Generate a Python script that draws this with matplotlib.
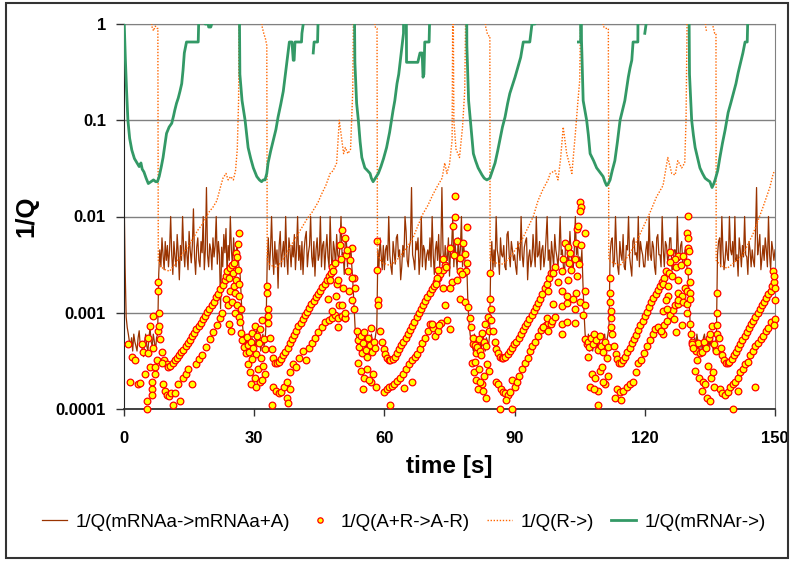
import numpy as np
import matplotlib
matplotlib.use('Agg')
import matplotlib.pyplot as plt
from matplotlib.patches import Rectangle

plt.rcParams['font.family'] = ['Liberation Sans', 'DejaVu Sans']

OFF = 5.0  # value above the axis top (1/Q > 1), gets clipped like in the original

labels = ['1/Q(mRNAa->mRNAa+A)', '1/Q(A+R->A-R)', '1/Q(R->)', '1/Q(mRNAr->)']

# 1/Q(mRNAa->mRNAa+A), sampled every 0.25 s (one row = 10 s), in units of 1e-4
brown_dt = 0.25
brown = [
    200, 30, 9, 7, 6, 5, 4.5, 5.5, 4, 6, 5, 4.5, 4, 5.5, 6.5, 4.5, 5, 4, 3.5, 5,
    6, 4.5, 4, 5.5, 7, 5, 4.5, 6, 5, 4, 5.5, 6, 25, 45, 30, 60, 40, 28, 55, 35,
    50, 30, 45, 100, 40, 25, 55, 38, 30, 65, 42, 22, 50, 35, 100, 45, 30, 55, 40, 28,
    70, 45, 33, 50, 120, 38, 25, 48, 60, 35, 30, 55, 42, 100, 28, 45, 200, 40, 30, 52,
    45, 28, 60, 38, 50, 100, 32, 55, 40, 11, 48, 30, 65, 42, 75, 25, 50, 35, 100, 45,
    30, 60, 38, 28, 55, 40, 30, 25, 15, 8, 6, 5, 4.5, 5.5, 4, 6, 5, 4.5, 5.5, 4,
    5, 4, 6.5, 4.5, 5, 5.5, 4, 5, 6, 4.5, 5, 8, 35, 60, 28, 45, 100, 40, 25, 55,
    32, 45, 18, 50, 70, 30, 42, 55, 30, 100, 38, 25, 60, 45, 30, 50, 38, 65, 28, 45,
    100, 35, 50, 28, 55, 25, 45, 60, 70, 30, 42, 50, 100, 38, 30, 55, 24, 45, 60, 35,
    40, 100, 30, 50, 55, 28, 45, 65, 38, 30, 100, 42, 25, 55, 45, 30, 65, 40, 35, 50,
    100, 40, 42, 25, 60, 55, 30, 45, 38, 50, 30, 20, 12, 7, 6, 5, 4.5, 4, 5.5, 4,
    5, 4.5, 6, 4, 5, 5.5, 4.5, 4, 6, 5, 4.5, 5, 6, 7, 45, 30, 60, 40, 28, 50,
    28, 45, 50, 35, 100, 40, 30, 25, 55, 42, 32, 60, 65, 38, 45, 22, 30, 50, 38, 100,
    70, 35, 30, 48, 55, 200, 40, 35, 28, 55, 45, 60, 25, 38, 100, 30, 50, 45, 28, 40,
    45, 35, 60, 30, 100, 40, 25, 45, 55, 35, 65, 30, 42, 200, 45, 28, 50, 38, 35, 60,
    24, 45, 50, 100, 30, 55, 40, 28, 60, 35, 45, 100, 30, 50, 40, 24, 30, 12, 8, 6,
    5, 4.5, 4, 6, 5, 4.5, 3.5, 5, 5.5, 4, 5, 6, 4.5, 4, 5.5, 5, 4.5, 6, 35, 55,
    28, 45, 30, 100, 45, 38, 25, 60, 40, 38, 50, 30, 28, 65, 70, 40, 30, 55, 45, 35,
    40, 30, 25, 55, 45, 35, 100, 40, 30, 48, 55, 60, 22, 38, 45, 30, 35, 65, 42, 30,
    100, 38, 40, 55, 28, 45, 50, 30, 38, 60, 100, 35, 45, 25, 55, 40, 30, 65, 45, 38,
    30, 45, 100, 40, 45, 30, 25, 55, 55, 35, 35, 70, 42, 30, 28, 45, 100, 40, 50, 30,
    38, 30, 45, 20, 10, 6, 5, 4.5, 6, 4, 5, 5.5, 4, 5, 4.5, 5.5, 4, 6, 5, 4.5,
    4, 5, 5.5, 6, 4.5, 5, 6, 7, 40, 55, 60, 30, 35, 100, 45, 30, 25, 55, 40, 35,
    65, 30, 28, 50, 45, 100, 38, 30, 24, 55, 60, 40, 42, 35, 100, 30, 55, 45, 40, 30,
    30, 45, 55, 35, 100, 40, 35, 55, 48, 30, 25, 60, 65, 40, 40, 30, 100, 45, 30, 55,
    50, 35, 38, 60, 60, 28, 28, 45, 45, 35, 100, 40, 35, 50, 55, 30, 30, 45, 45, 28,
    25, 12, 7, 5, 4, 4.5, 5.5, 4.5, 6, 5, 3.5, 4.5, 5, 4, 5.5, 6, 4.5, 5, 4, 5.5,
    4.5, 5, 6, 4, 5, 4.5, 6, 40, 55, 60, 30, 100, 45, 28, 35, 55, 40, 35, 100, 45,
    40, 55, 30, 100, 35, 40, 24, 60, 45, 30, 50, 38, 100, 40, 38, 25, 55, 45, 30, 45,
    35, 30, 65, 200, 40, 50, 65, 28, 38, 50, 35, 60, 45, 30, 100, 40, 28, 55, 45, 35,
    45,
]

# 1/Q(A+R->A-R) scatter, per cycle, values in units of 1e-4
ar_t1 = [0.9, 1.4, 1.8, 2.5, 3.2, 3.7, 4.1, 4.4, 4.8, 5.3, 5.3, 5.6, 5.6, 6.0, 6.0, 6.4, 6.4, 6.4, 6.7, 6.7, 7.1, 7.1, 7.5, 7.9,
         7.9, 7.9, 8.0, 8.0,
         8.3, 8.8, 9.3, 9.8, 10.2, 10.7, 11.2, 11.7, 12.2, 12.7, 13.2, 13.7, 14.2, 14.7, 15.2, 15.7, 16.2, 16.7, 17.2, 17.7,
         18.2, 18.7, 19.2, 19.7, 20.2, 20.7, 21.2, 21.7, 22.2, 22.7, 23.2,
         8.8, 9.0, 9.4, 9.8, 10.3, 10.8, 11.3, 11.7, 12.5, 12.9, 13.6, 14.2, 14.8, 15.6, 16.5, 17.3, 18.0, 19.0, 19.8, 20.6,
         21.4, 22.1, 22.6,
         23.4, 23.8, 24.1, 24.4, 24.8, 25.1, 25.4, 25.7, 26.0, 26.3, 26.6, 23.6, 24.0, 24.5, 24.9, 25.3, 25.6, 25.9, 26.2, 26.5,
         24.2, 24.7, 25.5, 26.1, 26.4, 26.8, 27.0, 27.3, 27.6, 28.0, 26.6, 26.9]
ar_v1 = [4.7, 1.9, 3.5, 3.2, 1.8, 1.85, 4.7, 3.9, 2.3, 1.2, 1.0, 5.5, 3.8, 7.2, 2.7, 1.9, 1.6, 1.4, 9.3, 4.3, 2.3, 2.7, 3.2, 6.4,
         21, 17, 10, 7.2,
         5.3, 3.9, 3.2, 2.9, 2.7, 2.8, 3.0, 3.2, 3.4, 3.6, 3.9, 4.1, 4.5, 4.8, 5.2, 5.7, 6.1, 6.7, 7.3, 7.9,
         8.6, 9.3, 10.2, 11, 12, 13, 14.5, 15.8, 17.5, 19.5, 22,
         3.0, 1.8, 1.55, 1.4, 1.35, 1.45, 1.1, 1.45, 1.8, 1.2, 2.1, 2.3, 2.6, 1.8, 2.9, 3.3, 3.6, 4.4, 5.3, 6.3,
         7.4, 8.8, 10,
         24, 27, 23, 29, 31, 26, 33, 42, 38, 52, 67, 14, 12, 17, 13, 19, 16, 22, 28, 20,
         7.7, 6.4, 10, 12, 9, 8, 6.2, 5.2, 4.4, 3.8, 15, 11]

ar_t2 = [28.3, 28.6, 28.9, 29.2, 29.5, 29.8, 30.1, 30.4, 30.7, 31.0, 31.3, 31.6, 31.9, 32.2, 32.5, 28.5, 29.0, 29.6, 30.2, 30.8,
         31.4, 32.0, 32.6, 29.3, 30.5, 31.7,
         33.0, 33.0, 33.1, 33.1, 33.2,
         33.6, 34.0, 34.4, 34.8, 35.2, 35.7, 36.2, 36.7, 37.2, 37.7, 38.2, 38.7, 39.2, 39.7, 40.2, 40.7, 41.2, 41.7, 42.2, 42.7,
         43.2, 43.7, 44.2, 44.7, 45.2, 45.7, 46.2, 46.7, 47.2, 47.7,
         34.4, 35.0, 35.6, 36.2, 36.8, 37.6, 38.3, 38.9, 39.6, 40.4, 41.2, 42.0, 42.6, 43.4, 44.0, 44.8, 45.6, 46.4, 47.2, 47.9,
         48.6, 49.3, 50.2, 50.9, 34.1, 37.6, 37.9, 38.2,
         47.0, 47.5, 47.9, 48.2, 48.6, 49.0, 49.3, 49.8, 50.2, 50.5, 50.9, 51.2, 51.6, 52.0, 52.5, 52.9, 53.2, 48.0, 48.8, 49.5,
         50.2, 51.0, 51.8, 52.5, 53.0, 49.3, 50.9, 52.5, 51.4, 50.0]
ar_v2 = [5.6, 4.6, 3.9, 5.0, 6.2, 4.3, 7.2, 3.7, 5.8, 4.9, 6.8, 3.4, 8.5, 5.3, 4.2, 2.9, 2.4, 3.3, 2.1, 2.6,
         1.9, 2.8, 2.3, 1.8, 1.7, 2.0,
         19, 16, 11, 9.3, 7.9,
         5.5, 4.2, 3.4, 3.0, 3.0, 3.1, 3.3, 3.6, 3.9, 4.3, 4.8, 5.3, 5.9, 6.5, 7.2, 7.9, 8.6, 9.4, 10.3, 11.2,
         12.2, 13.2, 14.5, 15.8, 17, 18.5, 20, 22, 24, 26,
         1.7, 1.55, 1.45, 1.5, 1.7, 1.9, 2.4, 2.9, 2.7, 3.4, 4.0, 3.2, 4.3, 4.9, 5.5, 6.3, 7.1, 8.0, 8.5, 8.9,
         9.5, 8.9, 9.3, 8.9, 1.1, 1.3, 1.15, 1.6,
         14, 22, 30, 27, 33, 20, 22, 50, 72, 18, 60, 40, 27, 35, 47, 23, 18, 10.4, 15, 12,
         12, 8.9, 17, 13.5, 11, 7.1, 10, 23, 45, 36]

ar_t3 = [53.6, 53.9, 54.2, 54.5, 54.8, 55.1, 55.4, 55.7, 56.0, 56.3, 56.6, 56.9, 57.2, 57.5, 57.8, 54.0, 54.6, 55.3, 56.1, 56.8,
         57.4, 58.0, 55.0, 56.5,
         58.4, 58.4, 58.5, 58.5,
         59.0, 59.4, 59.8, 60.2, 60.6, 61.0, 61.4, 61.9, 62.4, 62.9, 63.4, 63.9, 64.4, 64.9, 65.4, 65.9, 66.4, 66.9, 67.4, 67.9,
         68.4, 68.9, 69.4, 69.9, 70.4, 70.9, 71.4, 71.9, 72.4, 72.9, 73.4, 73.9,
         60.0, 60.5, 61.1, 61.7, 62.3, 62.9, 63.5, 64.3, 65.0, 65.7, 66.4, 67.0, 67.5, 68.1, 68.7, 69.3, 70.0, 70.5, 71.1, 71.7,
         72.3, 61.3, 66.4, 64.6,
         76.3, 76.3, 79.0, 75.8, 76.7, 78.1, 75.1, 76.0, 77.4, 78.5, 73.5, 72.3, 74.2, 77.4, 78.8, 72.1, 75.6, 77.8, 73.5, 75.1,
         76.8, 71.8, 71.0, 73.0, 74.5, 75.1, 72.5, 77.4, 78.5, 79.3, 79.7, 80.0, 80.4, 80.2, 79.0, 74.0]
ar_v3 = [6.5, 5.2, 4.4, 5.8, 3.8, 4.9, 6.3, 4.1, 3.5, 5.5, 4.6, 7.0, 3.9, 5.0, 4.3, 3.0, 2.5, 2.1, 2.6, 1.9,
         2.3, 1.7, 1.6, 2.0,
         55, 28, 13.5, 12,
         6.5, 5, 4.2, 3.7, 3.4, 3.2, 3.2, 3.3, 3.5, 3.8, 4.2, 4.6, 5.0, 5.5, 6.0, 6.6, 7.3, 8.1, 9, 10,
         11, 12, 13.2, 14.5, 16, 17.5, 19, 21, 23, 25, 28, 31,
         1.5, 1.6, 1.7, 1.75, 1.8, 1.95, 2.1, 2.3, 2.6, 2.9, 3.2, 3.5, 3.7, 4.2, 4.8, 5.5, 6.5, 7.6, 7.0, 5.8,
         6.4, 1.1, 1.9, 1.65,
         165, 98, 77, 80, 56, 53, 47, 40, 37, 41, 36, 28, 30, 27, 27, 23, 21, 25, 18, 18,
         22, 20, 7.6, 7.9, 8.5, 6.8, 7.5, 14, 13, 11.5, 8.9, 7.1, 4.7, 3.0, 33, 12]

ar_t4 = [80.5, 80.8, 81.1, 81.4, 81.7, 82.0, 82.3, 82.6, 82.9, 83.2, 83.5, 83.8, 84.1, 80.6, 81.2, 81.8, 82.4, 83.0, 83.6, 84.2,
         81.5, 82.7, 83.3, 80.9, 82.0,
         84.4, 84.4, 84.5, 84.5,
         85.0, 85.4, 85.8, 86.2, 86.6, 87.0, 87.4, 87.9, 88.4, 88.9, 89.4, 89.9, 90.4, 90.9, 91.4, 91.9, 92.4, 92.9, 93.4, 93.9,
         94.4, 94.9, 95.4, 95.9, 96.4, 96.9, 97.4, 97.9, 98.4,
         85.8, 86.2, 86.8, 87.3, 87.9, 88.5, 89.0, 89.5, 90.0, 90.5, 91.1, 91.7, 92.4, 93.0, 93.5, 94.1, 94.7, 95.3, 96.0, 96.6,
         97.2, 97.8, 98.5, 86.6, 89.5, 88.0,
         105.0, 105.2, 105.0, 104.3, 104.6, 106.2, 101.6, 102.2, 104.1, 105.3, 102.8, 101.2, 102.5, 103.9, 99.3, 100.9, 103.0,
         104.8, 98.8, 100.0, 102.2, 104.4, 97.7, 100.9, 102.0, 104.1, 106.2, 103.5, 105.0, 98.9, 101.0, 102.0, 103.9, 106.2,
         97.5, 98.6, 99.2, 101.0, 102.0, 104.0, 105.8, 96.5, 97.8, 101.0, 106.2, 106.6]
ar_v4 = [5.5, 4.6, 3.8, 4.4, 5.3, 4.0, 3.6, 6.2, 5.0, 7.7, 4.5, 9, 6.5, 2.4, 2.0, 2.6, 1.8, 2.2, 2.9, 2.5,
         1.6, 1.55, 1.3, 3.1, 1.9,
         26, 14, 11, 8.5,
         6.5, 5, 4.2, 3.8, 3.5, 3.4, 3.4, 3.5, 3.7, 4.0, 4.3, 4.7, 5.0, 5.5, 6.0, 6.6, 7.2, 7.9, 8.7, 9.5,
         10.5, 11.5, 12.7, 14, 15.5, 18, 20, 23, 26,
         1.9, 1.8, 1.6, 1.5, 1.45, 1.4, 1.5, 2.0, 1.7, 1.9, 2.2, 2.6, 3.0, 3.4, 4.0, 4.5, 5.0, 5.8, 6.6, 7.1,
         7.5, 7.8, 7.7, 1.0, 1.0, 1.25,
         140, 125, 115, 75, 80, 68, 53, 48, 53, 50, 42, 36, 33, 36, 30, 27, 28,
         32, 26, 21, 22, 24, 17, 17, 15, 16, 17, 14, 13, 12.3, 11.8, 12.5, 11, 12,
         8.9, 8.3, 9, 7.7, 8, 7.9, 9.4, 7.1, 6.5, 6.0, 5.3, 4.7]

ar_t5 = [106.8, 107.2, 107.6, 108.0, 108.4, 108.8, 109.2, 109.6, 110.0, 110.4, 110.8, 111.2, 111.6, 107.4, 107.9, 108.6,
         109.2, 109.7, 110.2, 110.9, 111.5, 108.3, 109.2, 110.4, 107.0,
         112.0, 112.0, 112.0, 112.1, 112.1, 112.1,
         112.5, 112.9, 113.3, 113.7, 114.1, 114.5, 115.0, 115.5, 116.0, 116.5, 117.0, 117.5, 118.0, 118.5, 119.0, 119.5,
         120.0, 120.5, 121.0, 121.5, 122.0, 122.5, 123.0, 123.5, 124.0, 124.5,
         113.6, 114.3, 115.0, 115.8, 116.6, 117.3, 117.9, 118.5, 119.2, 119.9, 120.6, 121.2, 121.8, 122.4, 123.0, 123.7,
         124.4, 125.0, 125.7, 126.4, 127.0, 127.6, 113.2, 114.5,
         130.0, 129.7, 129.9, 130.0, 130.2, 125.8, 127.6, 128.8, 127.0, 125.8, 127.2, 129.7, 124.9, 125.6, 128.4, 130.0,
         126.2, 124.2, 125.3, 127.6, 129.2, 130.4, 127.6, 128.5, 129.7, 130.3, 127.6, 128.8, 129.7, 130.4, 125.3, 124.9,
         124.2, 125.2, 126.7, 128.5, 127.2, 129.7, 124.2, 123.8]
ar_v5 = [5.0, 4.4, 5.5, 4.7, 6.0, 5.2, 4.1, 5.8, 4.5, 3.9, 5.0, 3.4, 4.4, 1.7, 2.3, 2.1,
         1.55, 2.5, 2.7, 1.8, 2.2, 1.6, 1.1, 1.9, 3.5,
         23, 16, 13, 10.5, 8.9, 7.1,
         6, 4.5, 3.7, 3.3, 3.0, 3.0, 3.2, 3.5, 3.9, 4.3, 4.8, 5.3, 5.9, 6.6, 7.4, 8.3,
         9.3, 10.3, 11.5, 12.8, 14.2, 15.7, 17.3, 19, 21, 23,
         1.6, 1.5, 1.55, 1.7, 1.8, 1.9, 2.4, 3.0, 3.2, 3.8, 4.5, 5.2, 6.0, 6.8, 7.1, 6.5,
         7.5, 8.3, 9.5, 10.8, 12, 12.3, 1.3, 1.25,
         102, 67, 60, 47, 44, 43, 39, 39, 36, 34, 30, 34, 27, 26, 31, 27,
         24, 20, 19, 22, 18, 21, 16, 15, 17, 16, 13.5, 13, 12.3, 14, 14.8, 13.5,
         10.4, 11, 8.7, 7.4, 6.3, 10, 6.0, 6.5]

ar_t6 = [130.8, 131.3, 131.8, 132.3, 132.8, 133.2, 133.7, 134.2, 134.7, 135.0, 135.5, 135.9, 136.3, 131.6, 132.6, 133.4,
         133.9, 134.6, 135.2, 135.8, 133.2, 134.3, 135.0, 136.0, 132.0, 130.4, 130.6, 130.8, 131.0,
         136.6, 136.6, 136.7, 136.7,
         137.1, 137.5, 137.9, 138.3, 138.7, 139.1, 139.5, 140.0, 140.5, 141.0, 141.5, 142.0, 142.5, 143.0, 143.5, 144.0,
         144.5, 145.0, 145.5, 146.0, 146.5, 147.0, 147.5, 148.0, 148.5, 149.0, 149.4, 149.8,
         137.4, 137.9, 138.5, 139.1, 139.7, 140.3, 140.8, 141.4, 142.0, 142.6, 143.1, 143.7, 144.3, 144.9, 145.5, 146.1,
         146.7, 147.3, 147.9, 148.5, 149.1, 140.3, 145.4, 141.5,
         149.6, 149.8, 149.9, 150.0, 150.0, 149.7]
ar_v6 = [5.0, 4.3, 4.0, 4.8, 3.8, 3.9, 5.0, 4.3, 5.5, 6.0, 7.2, 4.7, 4.0, 2.5, 2.1, 1.9,
         1.8, 2.8, 2.1, 2.4, 1.55, 1.3, 1.2, 1.7, 3.2, 7.7, 6.0, 4.7, 4.3,
         16, 10, 7.4, 6.0,
         5.5, 4.3, 3.6, 3.2, 3.0, 3.0, 3.1, 3.3, 3.6, 3.9, 4.3, 4.7, 5.2, 5.7, 6.3, 6.9,
         7.6, 8.3, 9.1, 10, 11, 12, 13, 14.2, 15.5, 17, 19, 21,
         1.6, 1.45, 1.4, 1.5, 1.7, 1.8, 1.9, 2.1, 2.4, 2.6, 2.9, 3.1, 3.6, 4.0, 4.5, 4.9,
         5.3, 5.8, 6.4, 7.0, 8.0, 1.0, 1.7, 1.55,
         27, 24, 18, 13.5, 8.7, 7.4]

# 1/Q(R->), nan = gap
r_t = [0.0, 6.3, 6.4, 6.8, 7.2, 7.6, 7.8, 7.9, 8.5, 9.5, 10.5, 11.5, 13.0, 14.5, 16.0, 17.0, 18.2, 19.5, 20.5, 21.4,
       22.2, 22.8, 23.5, 24.0, 24.6, 25.2, 25.7, 26.1, 26.4, 26.6,
       31.7, 31.8, 32.2, 32.6, 32.9, 33.0, 33.5, 34.5, 35.3, 36.5, 37.8, 39.5, 41.0, 42.2, 43.3, 44.7, 45.5, 46.5, 47.5,
       48.2, 49.0, 49.6, 50.2, 50.6, 51.0, 51.6, 52.2, 52.7, 53.0,
       57.7, 57.8, 58.1, 58.3, 58.4, 59.5, 61.3, 62.8, 64.3, 65.5, 66.6, 67.8, 68.9, 70.0, 71.2, 72.3, 73.3, 73.9, 74.4,
       75.0, 75.6, 75.8, 76.0, 76.5, 77.3, 78.0, 78.5, 78.9,
       83.2, 83.3, 83.7, 84.1, 84.3, 84.35, 85.5, 87.3, 88.8, 90.0, 91.5, 93.1, 94.3, 95.4, 96.5, 97.7, 98.2, 99.3,
       100.0, 100.6, 101.2, 102.0, 103.2, 104.0, 104.6, 105.0, 105.4,
       110.3, 110.4, 110.9, 111.4, 111.6, 111.7, 112.8, 114.3, 115.8, 117.3, 118.5, 119.6, 121.2, 122.7, 124.2, 125.3,
       126.2, 127.0, 127.6, 128.5, 129.2, 129.5, 129.9,
       133.9, 134.0, 134.2, 134.3, 135.7, 136.1, 136.4, 136.45, 137.5, 139.0, 140.5, 142.6, 145.0, 147.2, 148.8, 149.6,
       150.0]
r_v = [OFF, OFF, 0.95, 0.85, 0.95, 0.9, 0.9, 0.0035, 0.003, 0.0028, 0.0027, 0.0031, 0.0038, 0.0047, 0.006, 0.0072,
       0.0085, 0.011, 0.0125, 0.0146, 0.02, 0.025, 0.028, 0.024, 0.026, 0.024, 0.03, 0.05, 0.16, OFF,
       OFF, 0.95, 0.8, 0.7, 0.6, 0.0035, 0.0032, 0.003, 0.003, 0.0035, 0.0044, 0.006, 0.0077, 0.0095, 0.011, 0.014,
       0.017, 0.021, 0.028, 0.03, 0.036, 0.1, 0.062, 0.045, 0.052, 0.045, 0.05, 0.2, OFF,
       OFF, 0.95, 0.9, 0.9, 0.004, 0.0033, 0.0031, 0.0035, 0.0042, 0.005, 0.006, 0.0082, 0.0107, 0.013, 0.017, 0.021,
       0.025, 0.036, 0.028, 0.035, 0.062, OFF, 0.1, 0.05, 0.041, 0.085, 0.2, OFF,
       OFF, 0.95, 0.8, 0.75, 0.75, 0.0035, 0.0033, 0.0032, 0.0037, 0.0044, 0.0055, 0.0077, 0.01, 0.0146, 0.019, 0.024,
       0.028, 0.03, 0.024, 0.04, 0.085, 0.045, 0.028, 0.073, 0.16, 0.26, OFF,
       OFF, 0.95, 0.9, 0.9, 0.9, 0.0035, 0.0033, 0.0031, 0.0037, 0.0047, 0.006, 0.0077, 0.011, 0.016, 0.021, 0.041,
       0.028, 0.027, 0.038, 0.032, 0.036, 0.1, OFF,
       OFF, 0.95, 0.85, np.nan, 0.95, 0.8, 0.8, 0.0035, 0.0031, 0.0029, 0.0033, 0.004, 0.0067, 0.0124, 0.02, 0.028,
       0.03]

# 1/Q(mRNAr->), nan = gap
green_t = [0.0, 0.3, 0.6, 0.9, 1.3, 1.8, 2.4, 3.0, 3.5, 3.9, 4.2, 4.6, 5.1, 5.6, 6.2, 6.8, 7.3, 7.7, 8.1, 8.6,
           9.0, 9.4, 9.8, 10.4, 11.0, 11.4, 11.7, 12.1, 12.5, 12.9, 13.3, 13.6, 13.9, 14.4, 17.1, 17.2, 17.3,
           18.7, 19.4, 19.5, 20.0, 20.2, 20.3,
           26.5, 26.7, 27.2, 27.9, 28.6, 29.2, 29.8, 30.6, 31.2, 31.7, 32.1, 32.5, 32.9, 33.2, 33.8, 34.4, 35.0, 35.5,
           36.1, 36.7, 37.1, 37.5, 38.1, 38.7, 39.0, 39.2, 39.4, 40.9, 41.0, 41.3, 41.4,
           43.4, 43.5, 43.6, 43.8, 44.6, 44.7, 44.8,
           53.0, 53.2, 53.6, 54.0, 54.4, 54.8, 55.5, 56.1, 56.7, 57.0, 57.4, 57.9, 58.6, 59.2, 59.8, 60.5, 61.2, 62.0,
           62.4, 62.9, 63.3, 63.6, 64.2, 64.4, 64.5, 65.0, 65.1, 67.7, 68.2, 68.7, 68.9, 69.1, 69.3, 70.3, 70.4, 70.5,
           78.9, 79.0, 79.4, 79.8, 80.5, 81.0, 81.6, 82.5, 83.0, 83.6, 84.3, 84.9, 85.5, 86.1, 86.6, 87.2, 87.8, 88.4,
           88.9, 89.5, 90.1, 90.8, 91.4, 92.0, 93.5, 94.0, 94.7, 94.8,
           104.5, 104.6, 104.7, 105.2, 105.3, 105.5, 105.8, 106.6, 107.0, 107.4, 108.2, 108.9, 109.6, 110.4, 110.8,
           111.2, 111.6, 112.0, 112.5, 113.1, 113.7, 114.3, 114.9, 115.4, 115.8, 116.2, 116.6, 117.0, 117.3, 118.4,
           118.5, 119.8, 119.9, 120.0, 120.3, 120.4,
           130.1, 130.3, 130.8, 131.2, 131.6, 132.2, 132.7, 133.3, 133.9, 134.4, 135.0, 135.5, 135.9, 136.2, 136.8,
           137.3, 137.9, 138.5, 139.2, 139.8, 140.4, 141.0, 141.5, 142.1, 142.6, 143.1, 143.6, 143.7, 143.8, 150.0]
green_v = [1.2, 0.45, 0.2, 0.1, 0.065, 0.049, 0.04, 0.036, 0.033, 0.036, 0.031, 0.029, 0.025, 0.022, 0.023, 0.024,
           0.023, 0.023, 0.026, 0.033, 0.041, 0.055, 0.073, 0.085, 0.093, 0.11, 0.127, 0.15, 0.17, 0.2, 0.24, 0.33,
           0.5, 0.65, 0.65, 1.0, OFF,
           1.0, 1.0, 0.93, 0.93, 1.0, OFF,
           OFF, 0.3, 0.16, 0.1, 0.052, 0.04, 0.032, 0.026, 0.024, 0.023, 0.024, 0.024, 0.028, 0.036, 0.048, 0.062,
           0.08, 0.108, 0.145, 0.2, 0.28, 0.39, 0.65, 0.65, 0.42, 0.42, 0.65, 0.65, 0.8, 1.0, OFF,
           OFF, np.nan, 0.5, 0.65, 0.65, 1.0, OFF,
           OFF, 0.4, 0.15, 0.1, 0.06, 0.041, 0.032, 0.03, 0.028, 0.025, 0.023, 0.025, 0.028, 0.033, 0.04, 0.052,
           0.075, 0.127, 0.16, 0.24, 0.3, 0.39, 0.65, 0.8, OFF, OFF, 0.4, 0.4, 0.5, 0.5, 0.28, 0.3, 0.65, 0.65,
           1.0, OFF,
           OFF, 0.6, 0.16, 0.1, 0.045, 0.038, 0.032, 0.027, 0.025, 0.024, 0.025, 0.03, 0.036, 0.048, 0.062, 0.085,
           0.108, 0.15, 0.19, 0.23, 0.28, 0.36, 0.45, 0.65, 0.65, 1.0, 1.0, OFF,
           OFF, np.nan, 0.65, 0.65, 1.0, 0.5, 0.16, 0.1, 0.07, 0.045, 0.038, 0.032, 0.029, 0.026, 0.023, 0.021,
           0.022, 0.024, 0.03, 0.038, 0.06, 0.1, 0.13, 0.16, 0.21, 0.28, 0.35, 0.42, 0.65, 0.65, OFF, OFF, np.nan,
           0.8, 1.0, OFF,
           OFF, 0.3, 0.1, 0.07, 0.052, 0.04, 0.032, 0.028, 0.025, 0.024, 0.023, 0.02, 0.022, 0.024, 0.03, 0.041,
           0.058, 0.079, 0.12, 0.15, 0.19, 0.24, 0.31, 0.4, 0.5, 0.65, 0.65, 1.0, OFF, OFF]

x_ticks = [0, 30, 60, 90, 120, 150]
y_ticks = [1e-4, 1e-3, 1e-2, 1e-1, 1]
y_tick_labels = ['0.0001', '0.001', '0.01', '0.1', '1']

# ---- drawing ----
fig = plt.figure(figsize=(7.9, 5.61), dpi=100)
ax = fig.add_axes([124 / 790, 152 / 561, 651 / 790, 385 / 561])

t_brown = np.arange(len(brown)) * brown_dt
scat_t = ar_t1 + ar_t2 + ar_t3 + ar_t4 + ar_t5 + ar_t6
scat_v = ar_v1 + ar_v2 + ar_v3 + ar_v4 + ar_v5 + ar_v6

h1, = ax.plot(t_brown, np.array(brown) * 1e-4, color='#993300', lw=0.9, zorder=2)
h2, = ax.plot(scat_t, np.array(scat_v) * 1e-4, ls='none', marker='o', ms=4.8,
              mfc='#FFFF00', mec='#FF0000', mew=0.9, zorder=3, clip_on=False)
h3, = ax.plot(r_t, r_v, color='#FF6600', lw=1.0, ls=(0, (1, 1.2)), zorder=4)
h4, = ax.plot(green_t, green_v, color='#339966', lw=2.0, zorder=5)

ax.set_yscale('log')
ax.set_ylim(1e-4, 1)
ax.set_xlim(0, 150)
ax.set_yticks(y_ticks)
ax.set_yticklabels(y_tick_labels)
ax.yaxis.set_minor_locator(matplotlib.ticker.NullLocator())
ax.set_xticks(x_ticks)

ax.tick_params(axis='y', length=6, width=1, pad=7, labelsize=12, color='#333333')
ax.tick_params(axis='x', length=5, width=1, pad=11, labelsize=12, color='#333333')
for lab in ax.get_xticklabels() + ax.get_yticklabels():
    lab.set_fontweight('bold')

ax.yaxis.grid(True, color='#808080', lw=1)
ax.set_axisbelow(True)
ax.spines['left'].set_color('#222222')
ax.spines['bottom'].set_color('#333333')
ax.spines['bottom'].set_linewidth(1.3)
ax.spines['right'].set_color('#808080')
ax.spines['top'].set_color('#808080')

ax.set_ylabel('1/Q', fontsize=18.5, fontweight='bold')
ax.yaxis.set_label_coords(-0.131, 0.5)
ax.set_xlabel('time [s]', fontsize=17.5, fontweight='bold')
ax.xaxis.set_label_coords(0.5, -0.12)

fig.legend([h1, h2, h3, h4], labels, loc='center', bbox_to_anchor=(0.511, 0.0695), ncol=4,
           frameon=False, fontsize=13.5, handlelength=1.35, handletextpad=0.45,
           columnspacing=0.9, markerscale=0.8, numpoints=1)

fig.patches.append(Rectangle((6 / 790, 3 / 561), 782 / 790, 555 / 561, transform=fig.transFigure,
                             fill=False, ec='#333333', lw=1.5))

fig.savefig('out.png', dpi=100)
